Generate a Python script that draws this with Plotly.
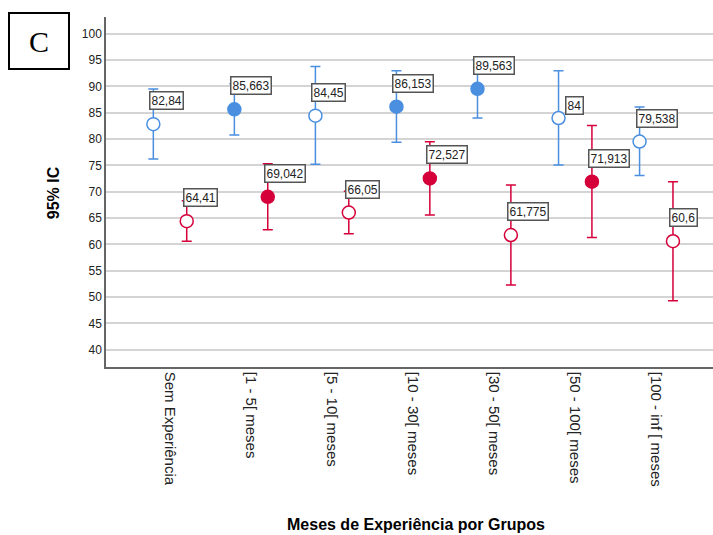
import plotly.graph_objects as go

categories = ["Sem Experiência", "[1 - 5[ meses", "[5 - 10[ meses", "[10 - 30[ meses",
              "[30 - 50[ meses", "[50 - 100[ meses", "[100 - inf [ meses"]

blue_mean = [82.84, 85.663, 84.45, 86.153, 89.563, 84.0, 79.538]
blue_low = [76.2, 80.8, 75.2, 79.4, 84.0, 75.1, 73.1]
blue_high = [89.5, 90.5, 93.8, 93.0, 95.1, 93.0, 86.1]
blue_filled = [False, True, False, True, True, False, False]

red_mean = [64.41, 69.042, 66.05, 72.527, 61.775, 71.913, 60.6]
red_low = [60.6, 62.8, 62.0, 65.6, 52.3, 61.3, 49.3]
red_high = [68.3, 75.3, 70.1, 79.5, 71.3, 82.6, 71.9]
red_filled = [False, True, False, True, False, True, False]

y_ticks = list(range(40, 101, 5))

BLUE = "#4a8fe0"
RED = "#d5003a"
OFF = 0.206

fig = go.Figure()


def add_series(means, lows, highs, filled, color, offset):
    xs = [i + offset for i in range(len(means))]
    fig.add_trace(go.Scatter(
        x=xs, y=means, mode="markers",
        marker=dict(size=13, symbol="circle",
                    color=[color if f else "white" for f in filled],
                    line=dict(color=color, width=1.5)),
        error_y=dict(type="data", symmetric=False,
                     array=[h - m for h, m in zip(highs, means)],
                     arrayminus=[m - l for m, l in zip(means, lows)],
                     color=color, thickness=1.5, width=5),
        showlegend=False, hoverinfo="skip"))
    return xs


def fmt(v):
    s = ("%.3f" % v).rstrip("0").rstrip(".")
    return s.replace(".", ",")


bx = add_series(blue_mean, blue_low, blue_high, blue_filled, BLUE, -OFF)
rx = add_series(red_mean, red_low, red_high, red_filled, RED, OFF)

special = {("b", 5): (6, 3)}
annotations = []
for tag, xs, means in (("b", bx, blue_mean), ("r", rx, red_mean)):
    for i, (x, m) in enumerate(zip(xs, means)):
        xs_, ys_ = special.get((tag, i), (-4, 14))
        annotations.append(dict(
            x=x, y=m, xref="x", yref="y", text=fmt(m), showarrow=False,
            xanchor="left", yanchor="bottom", xshift=xs_, yshift=ys_,
            font=dict(family="Liberation Sans, Arial", size=12, color="#222"),
            bgcolor="white", bordercolor="#555", borderwidth=1.5, borderpad=1))

annotations.append(dict(
    x=-0.110, y=0.931, xref="paper", yref="paper", text="C", showarrow=False,
    xanchor="center", yanchor="middle",
    font=dict(family="Liberation Serif, Times New Roman", size=30, color="black"),
    width=58, height=54, bordercolor="black", borderwidth=2, borderpad=0,
    bgcolor="white"))
annotations.append(dict(
    x=-0.087, y=0.497, xref="paper", yref="paper", text="<b>95% IC</b>",
    showarrow=False, textangle=-90, xanchor="center", yanchor="middle",
    font=dict(family="Liberation Sans, Arial", size=16, color="black")))
annotations.append(dict(
    x=0.511, y=-0.451, xref="paper", yref="paper",
    text="<b>Meses de Experiência por Grupos</b>",
    showarrow=False, xanchor="center", yanchor="middle",
    font=dict(family="Liberation Sans, Arial", size=16, color="black")))

fig.update_layout(
    width=713, height=535,
    margin=dict(l=106, r=0, t=17, b=168),
    paper_bgcolor="white", plot_bgcolor="white",
    font=dict(family="Liberation Sans, Arial", size=12, color="#222"),
    annotations=annotations,
    xaxis=dict(range=[-0.79, 6.70], tickvals=list(range(len(categories))),
               ticktext=categories, tickangle=90, showgrid=False, zeroline=False,
               showline=True, linecolor="#666", linewidth=1.5, ticks="",
               tickfont=dict(size=15, color="#222")),
    yaxis=dict(range=[36.7, 103.2], tickvals=y_ticks, showgrid=True,
               gridcolor="#d4d4d4", gridwidth=1.5, zeroline=False,
               showline=True, linecolor="#666", linewidth=1.5, ticks="",
               tickfont=dict(size=12, color="#222")),
)

fig.write_html("out.html", config={"displayModeBar": False},
               post_script="document.body.style.margin='0';document.body.style.overflow='hidden';")
